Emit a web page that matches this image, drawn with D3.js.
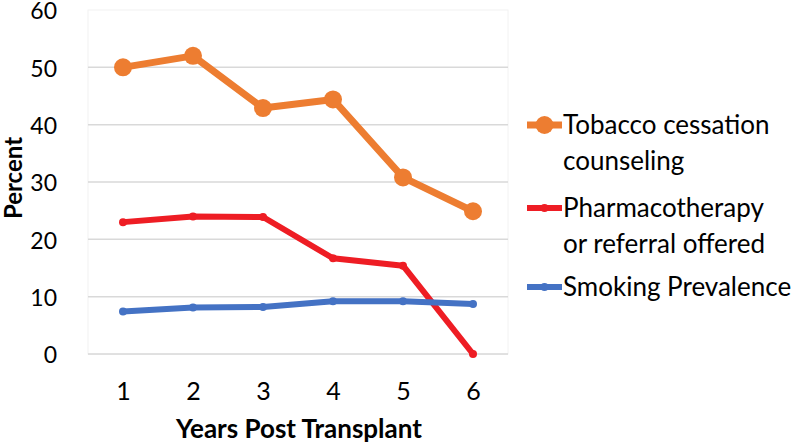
<!DOCTYPE html>
<html>
<head>
<meta charset="utf-8">
<script src="https://cdn.jsdelivr.net/npm/d3@7"></script>
<style>
  body { margin: 0; background: #fff; }
  text { font-family: Lato, "Open Sans", sans-serif; fill: #000; }
</style>
</head>
<body>
<script>
// Chart data
const years = [1, 2, 3, 4, 5, 6];
const counseling = [50, 52, 42.9, 44.4, 30.8, 24.9];
const pharmaco = [23, 24, 23.9, 16.7, 15.4, 0];
const prevalence = [7.4, 8.1, 8.2, 9.2, 9.2, 8.7];
const yTicks = [0, 10, 20, 30, 40, 50, 60];

const series = [
    { name: ["Tobacco cessation", "counseling"], values: counseling, color: "#ED7D31", width: 7, r: 9 },
    { name: ["Pharmacotherapy", "or referral offered"], values: pharmaco, color: "#EE1D24", width: 6, r: 4 },
    { name: ["Smoking Prevalence"], values: prevalence, color: "#4472C4", width: 6, r: 4 }
];

const width = 800, height = 446;
const plot = { left: 88, right: 508, top: 10, bottom: 354 };

const svg = d3.select("body").append("svg")
    .attr("width", width)
    .attr("height", height);

const x = d3.scalePoint()
    .domain(years)
    .range([plot.left, plot.right])
    .padding(0.5);

const y = d3.scaleLinear()
    .domain([0, 60])
    .range([plot.bottom, plot.top]);

// faint plot border
svg.append("rect")
    .attr("x", plot.left)
    .attr("y", plot.top)
    .attr("width", plot.right - plot.left)
    .attr("height", plot.bottom - plot.top)
    .attr("fill", "none")
    .attr("stroke", "#f2f2f2");

// gridlines (the top one is only the faint border)
svg.append("g")
    .selectAll("line")
    .data(yTicks.filter(d => d < 60))
    .join("line")
    .attr("x1", plot.left)
    .attr("x2", plot.right)
    .attr("y1", d => y(d))
    .attr("y2", d => y(d))
    .attr("stroke", "#d9d9d9")
    .attr("stroke-width", 1.5);

// y axis labels
const yAxis = svg.append("g")
    .attr("transform", `translate(${plot.left - 31},1.5)`)
    .call(d3.axisLeft(y).tickValues(yTicks).tickSize(0).tickPadding(0));
yAxis.select(".domain").remove();
yAxis.selectAll("text")
    .attr("font-size", 23)
    .attr("font-family", "Lato, sans-serif")
    .attr("fill", "#000");

// x axis labels
const xAxis = svg.append("g")
    .attr("transform", `translate(0,${plot.bottom + 28})`)
    .call(d3.axisBottom(x).tickSize(0).tickPadding(0));
xAxis.select(".domain").remove();
xAxis.selectAll("text")
    .attr("font-size", 25)
    .attr("font-family", "Lato, sans-serif")
    .attr("fill", "#000");

// axis titles
svg.append("text")
    .attr("x", 299)
    .attr("y", 438)
    .attr("text-anchor", "middle")
    .attr("font-size", 26)
    .attr("font-weight", "bold")
    .text("Years Post Transplant");

svg.append("text")
    .attr("transform", `translate(22,178) rotate(-90)`)
    .attr("text-anchor", "middle")
    .attr("font-size", 24)
    .attr("font-weight", "bold")
    .text("Percent");

// lines and markers
const line = d3.line()
    .x((d, i) => x(years[i]))
    .y(d => y(d));

series.forEach(s => {
    svg.append("path")
        .datum(s.values)
        .attr("d", line)
        .attr("fill", "none")
        .attr("stroke", s.color)
        .attr("stroke-width", s.width)
        .attr("stroke-linejoin", "round");

    svg.append("g")
        .selectAll("circle")
        .data(s.values)
        .join("circle")
        .attr("cx", (d, i) => x(years[i]))
        .attr("cy", d => y(d))
        .attr("r", s.r)
        .attr("fill", s.color);
});

// legend
const legendY = [125, 208, 287];
series.forEach((s, i) => {
    const g = svg.append("g").attr("transform", `translate(527,${legendY[i]})`);
    g.append("line")
        .attr("x1", 0).attr("x2", 35)
        .attr("y1", 0).attr("y2", 0)
        .attr("stroke", s.color)
        .attr("stroke-width", s.width);
    g.append("circle")
        .attr("cx", 17.5).attr("cy", 0)
        .attr("r", s.r)
        .attr("fill", s.color);
    s.name.forEach((t, j) => {
        g.append("text")
            .attr("x", 36)
            .attr("y", 9 + j * 36)
            .attr("font-size", 26)
            .text(t);
    });
});
</script>
</body>
</html>
